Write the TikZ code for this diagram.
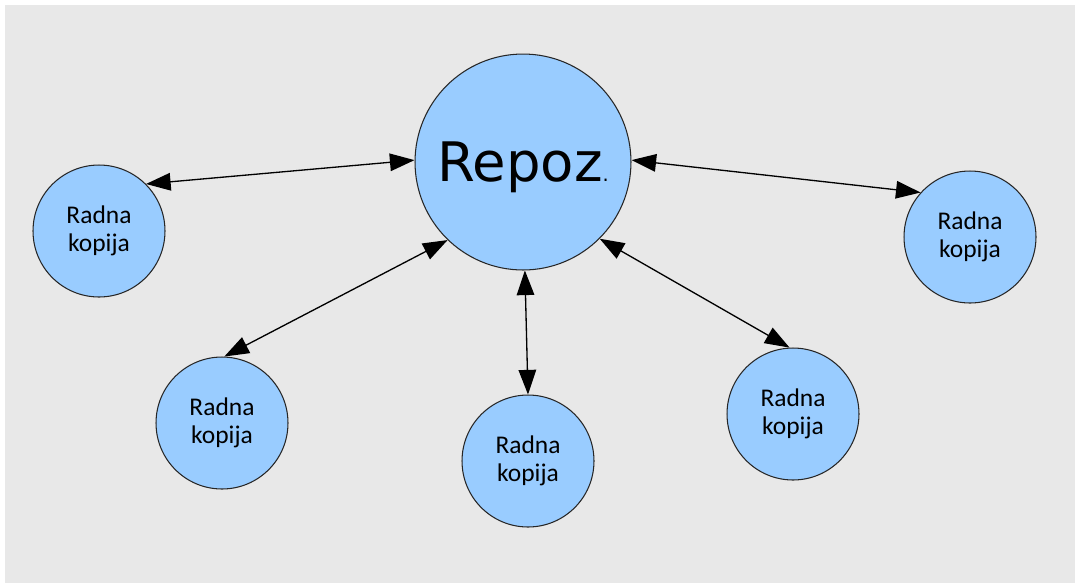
\documentclass[tikz,border=0pt]{standalone}
\usepackage{fontspec}
\setmainfont{Carlito}
\newfontfamily\repofont{DejaVu Sans}
\usetikzlibrary{arrows.meta}
\definecolor{copyblue}{HTML}{99CCFF}
\definecolor{backgray}{HTML}{E8E8E8}

\begin{document}
\begin{tikzpicture}[x=0.02cm,y=-0.02cm,
    copy/.style={circle,draw=black!85,fill=copyblue,line width=0.6pt,minimum size=2.64cm,inner sep=0pt,align=center,font=\fontsize{14.5}{16}\selectfont},
    repo/.style={copy,minimum size=4.32cm,text depth=0pt,font=\repofont\fontsize{31}{36}\selectfont},
    link/.style={arrows={Triangle[length=14pt,width=10pt]-Triangle[length=14pt,width=10pt]},line width=0.75pt}]
    % background
    \useasboundingbox (0,0) rectangle (1075,583);
    \fill[backgray] (5,5) rectangle (1075,583);

    % repository in the middle
    \node[repo] (repo) at (523,162) {Repoz{\fontsize{11}{13}\selectfont.}};

    % working copies round it
    \node[copy] (wcleft) at (99,231) {Radna\\kopija};
    \node[copy] (wcright) at (970,237) {Radna\\kopija};
    \node[copy] (wcbotleft) at (222,423) {Radna\\kopija};
    \node[copy] (wcbot) at (528,461) {Radna\\kopija};
    \node[copy] (wcbotright) at (793,414) {Radna\\kopija};

    % two-way links
    \draw[link] (wcleft.45) -- (repo.179);
    \draw[link] (repo.1) -- (wcright.138);
    \draw[link] (repo.226) -- (wcbotleft.88);
    \draw[link] (repo.271) -- (wcbot.90);
    \draw[link] (repo.315) -- (wcbotright.93);
\end{tikzpicture}
\end{document}
